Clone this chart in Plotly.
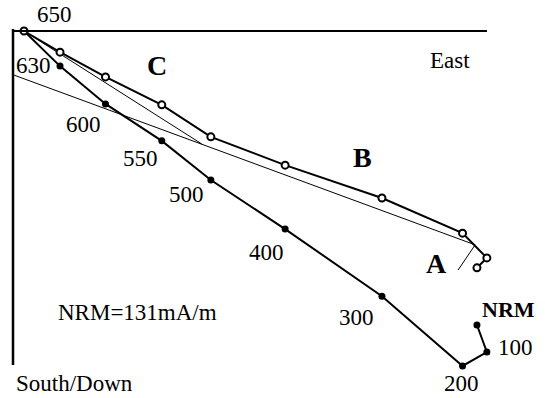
import plotly.graph_objects as go

# Demagnetisation steps (NRM, then temperatures in degC)
steps = ["NRM", "100", "200", "300", "400", "500", "550", "600", "630", "650"]
# Components in mA/m
east = [100.6, 102.8, 97.4, 79.5, 58.0, 41.5, 30.6, 18.1, 8.0, 0.0]
south = [52.6, 50.4, 44.9, 37.1, 29.8, 23.5, 16.4, 10.2, 4.7, 0.0]   # horizontal projection (open)
down = [65.3, 71.3, 74.4, 58.9, 44.0, 33.1, 24.4, 16.2, 7.8, 0.0]    # vertical projection (solid)

# Fitted component lines (east, south)
fitA_e = [100.2, 96.4]
fitA_s = [47.5, 53.1]
fitB_e = [-2.2, 100.2]
fitB_s = [9.8, 47.5]
fitC_e = [0.0, 39.5]
fitC_s = [0.0, 25.1]

W, H = 545, 398
S = 0.2221          # mA/m per pixel
OX, OY = 24, 31     # pixel of origin

fig = go.Figure()

for fe, fs in [(fitA_e, fitA_s), (fitB_e, fitB_s), (fitC_e, fitC_s)]:
    fig.add_trace(go.Scatter(x=fe, y=fs, mode="lines",
                             line=dict(color="black", width=1), hoverinfo="skip"))

fig.add_trace(go.Scatter(x=east, y=down, mode="lines+markers", name="Vertical",
                         line=dict(color="black", width=2),
                         marker=dict(symbol="circle", size=7, color="black")))
fig.add_trace(go.Scatter(x=east, y=south, mode="lines+markers", name="Horizontal",
                         line=dict(color="black", width=2),
                         marker=dict(symbol="circle", size=7, color="white",
                                     line=dict(color="black", width=2))))

# axes lines
fig.add_shape(type="line", x0=(13 - OX) * S, x1=(487 - OX) * S, y0=0, y1=0,
              line=dict(color="black", width=2))
fig.add_shape(type="line", x0=(13 - OX) * S, x1=(13 - OX) * S,
              y0=(29 - OY) * S, y1=(365 - OY) * S,
              line=dict(color="black", width=2.5))

FONT = "Liberation Serif, Times New Roman, serif"

def label(text, px, py, size=23, bold=False, yanchor="middle"):
    t = f"<b>{text}</b>" if bold else text
    fig.add_annotation(x=px / W, y=1 - py / H, xref="paper", yref="paper",
                       text=t, showarrow=False, xanchor="center", yanchor=yanchor,
                       font=dict(family=FONT, size=size, color="black"))

label("650", 54, 15)
label("630", 33, 66)
label("600", 83, 124)
label("550", 140, 158)
label("500", 186, 195)
label("400", 266, 252)
label("300", 356, 317)
label("200", 461, 398, yanchor="bottom")
label("100", 515, 347)
label("NRM", 508, 309, size=22, bold=True)
label("A", 436, 263, size=28, bold=True)
label("B", 362, 157, size=28, bold=True)
label("C", 157, 66, size=28, bold=True)
label("East", 450, 61)
label("NRM=131mA/m", 137, 312)
label("South/Down", 74, 398, yanchor="bottom")

fig.update_layout(
    width=W, height=H,
    margin=dict(l=0, r=0, t=0, b=0),
    paper_bgcolor="white", plot_bgcolor="white",
    showlegend=False,
    xaxis=dict(visible=False, range=[-OX * S, (W - OX) * S]),
    yaxis=dict(visible=False, range=[(H - OY) * S, -OY * S]),
)

fig.write_html("out.html")
